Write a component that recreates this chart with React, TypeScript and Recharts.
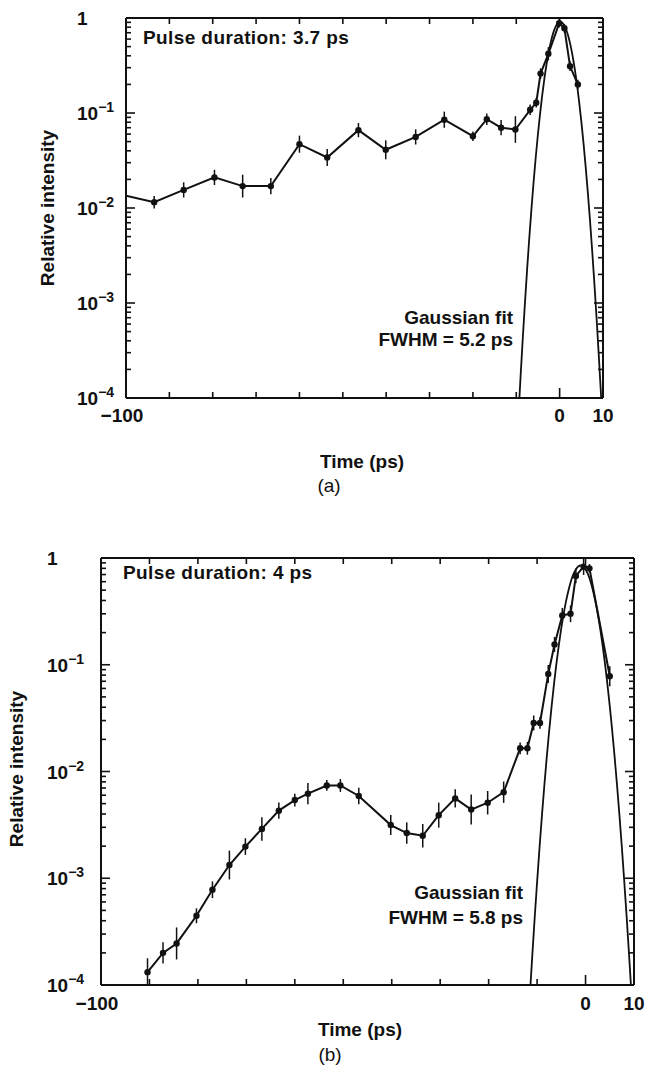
import React from 'react';
import { LineChart, Line, XAxis, YAxis, ErrorBar } from 'recharts';

// ---------- Panel (a) data ----------
const aTime = [-100, -93.5, -86.7, -79.6, -73.1, -66.6, -60.0, -53.6, -46.4, -40.1, -33.2, -26.6, -20.0, -16.8, -13.5, -10.2, -6.8, -5.4, -4.4, -2.6, -0.1, 1.1, 2.4, 4.2];
const aIntensity = [0.0135, 0.0115, 0.0155, 0.021, 0.017, 0.017, 0.047, 0.034, 0.066, 0.041, 0.056, 0.085, 0.057, 0.086, 0.07, 0.067, 0.108, 0.128, 0.26, 0.42, 0.88, 0.78, 0.31, 0.2];
const aErrDecades = [0, 0.065, 0.08, 0.08, 0.12, 0.085, 0.09, 0.09, 0.075, 0.1, 0.08, 0.085, 0.05, 0.06, 0.08, 0.14, 0.055, 0.05, 0.055, 0.07, 0.045, 0.045, 0.05, 0.05];

const aFitTime = [-9.5, -9, -8.5, -8, -7.5, -7, -6.5, -6, -5.5, -5, -4.5, -4, -3.5, -3, -2.5, -2, -1.5, -1, -0.5, 0, 0.5, 1, 1.5, 2, 2.5, 3, 3.5, 4, 4.5, 5, 5.5, 6, 6.5, 7, 7.5, 8, 8.5, 9, 9.5, 10];
const aFitIntensity = [6.5e-5, 1.71e-4, 4.25e-4, 1.0e-3, 2.26e-3, 4.83e-3, 9.8e-3, 0.0189, 0.0346, 0.0601, 0.0993, 0.156, 0.233, 0.33, 0.444, 0.568, 0.69, 0.796, 0.873, 0.91, 0.901, 0.847, 0.757, 0.643, 0.518, 0.396, 0.288, 0.2, 0.131, 0.0818, 0.0484, 0.0273, 0.0146, 7.43e-3, 3.58e-3, 1.64e-3, 7.16e-4, 2.96e-4, 1.17e-4, 4.4e-5];

// ---------- Panel (b) data ----------
const bTime = [-90.4, -87.2, -84.4, -80.3, -77.0, -73.5, -70.2, -66.8, -63.3, -60.0, -57.3, -53.4, -50.6, -46.8, -40.2, -36.9, -33.6, -30.3, -26.9, -23.6, -20.2, -16.9, -13.5, -12.0, -10.7, -9.4, -7.7, -6.4, -4.8, -3.1, -2.0, -0.4, 0.8, 5.0];
const bIntensity = [1.32e-4, 2.0e-4, 2.45e-4, 4.45e-4, 7.8e-4, 1.33e-3, 1.98e-3, 2.9e-3, 4.3e-3, 5.4e-3, 6.2e-3, 7.4e-3, 7.4e-3, 5.9e-3, 3.15e-3, 2.65e-3, 2.5e-3, 3.9e-3, 5.6e-3, 4.4e-3, 5.1e-3, 6.4e-3, 0.0165, 0.0165, 0.0285, 0.0285, 0.082, 0.155, 0.29, 0.30, 0.68, 0.83, 0.80, 0.078];
const bErrDecades = [0.13, 0.1, 0.15, 0.07, 0.078, 0.135, 0.078, 0.11, 0.075, 0.06, 0.1, 0.05, 0.06, 0.078, 0.094, 0.1, 0.11, 0.117, 0.085, 0.14, 0.11, 0.1, 0.055, 0.06, 0.07, 0.055, 0.085, 0.07, 0.07, 0.078, 0.07, 0.078, 0.04, 0.094];

const bFitTime = [-12, -11.5, -11, -10.5, -10, -9.5, -9, -8.5, -8, -7.5, -7, -6.5, -6, -5.5, -5, -4.5, -4, -3.5, -3, -2.5, -2, -1.5, -1, -0.5, 0, 0.5, 1, 1.5, 2, 2.5, 3, 3.5, 4, 4.5, 5, 5.5, 6, 6.5, 7, 7.5, 8, 8.5, 9, 9.5, 10];
const bFitIntensity = [3.2e-5, 7.9e-5, 1.86e-4, 4.24e-4, 9.2e-4, 1.93e-3, 3.87e-3, 7.43e-3, 0.0137, 0.0242, 0.0409, 0.0665, 0.1035, 0.1545, 0.221, 0.303, 0.399, 0.502, 0.608, 0.705, 0.782, 0.834, 0.851, 0.834, 0.782, 0.705, 0.608, 0.502, 0.399, 0.303, 0.221, 0.1545, 0.1035, 0.0665, 0.0409, 0.0242, 0.0137, 7.43e-3, 3.87e-3, 1.93e-3, 9.2e-4, 4.24e-4, 1.86e-4, 7.9e-5, 3.2e-5];

// ---------- Axes ----------
const xTicks = [-100, -90, -80, -70, -60, -50, -40, -30, -20, -10, 0, 10];
const xTickLabels: Record<string, string> = { '-100': '\u2212100', '0': '0', '10': '10' };
const yMajorTicks = [1e-4, 1e-3, 1e-2, 1e-1, 1];
const yMajorBase = ['10', '10', '10', '10', '1'];
const yMajorExp = ['\u22124', '\u22123', '\u22122', '\u22121', ''];
const yMinorMultipliers = [2, 3, 4, 5, 6, 7, 8, 9];
const yTicks = [
  ...yMajorTicks,
  ...yMajorTicks.slice(0, 4).flatMap((d) => yMinorMultipliers.map((m) => m * d)),
].sort((p, q) => p - q);

const FONT = '"Liberation Sans", Arial, Helvetica, sans-serif';
const INK = '#111';

function buildData(t: number[], v: number[], e?: number[]) {
  return t.map((x, i) => {
    const y = v[i];
    const d = e ? e[i] : 0;
    return {
      x,
      y,
      hasDot: e ? d > 0 : false,
      err: [y - y / Math.pow(10, d), y * Math.pow(10, d) - y],
    };
  });
}

const aData = buildData(aTime, aIntensity, aErrDecades);
const aFit = buildData(aFitTime, aFitIntensity);
const bData = buildData(bTime, bIntensity, bErrDecades);
const bFit = buildData(bFitTime, bFitIntensity);

function majorIndex(v: number) {
  return yMajorTicks.findIndex((m) => Math.abs(Math.log10(v) - Math.log10(m)) < 1e-6);
}

const makeLeftTick = (labelDx: number) => (props: any) => {
  const { x, y, payload } = props;
  const mi = majorIndex(payload.value);
  const len = mi >= 0 ? 9 : 5;
  return (
    <g>
      <line x1={x} x2={x + len} y1={y} y2={y} stroke={INK} strokeWidth={1.6} />
      {mi >= 0 && (
        <text x={x - labelDx} y={y + 7} fontFamily={FONT} fontWeight="bold" fontSize={19} fill={INK} textAnchor="start">
          <tspan>{yMajorBase[mi]}</tspan>
          {yMajorExp[mi] && (
            <tspan dy={-8} fontSize={14}>
              {yMajorExp[mi]}
            </tspan>
          )}
        </text>
      )}
    </g>
  );
};

const RightTick = (props: any) => {
  const { x, y, payload } = props;
  const mi = majorIndex(payload.value);
  const len = mi >= 0 ? 9 : 5;
  return <line x1={x} x2={x - len} y1={y} y2={y} stroke={INK} strokeWidth={1.6} />;
};

const makeBottomTick = (labelDy: number) => (props: any) => {
  const { x, y, payload } = props;
  const v = payload.value;
  const label = xTickLabels[String(v)];
  const len = v === 0 ? 10 : 6;
  return (
    <g>
      {v !== -100 && v !== 10 && <line x1={x} x2={x} y1={y} y2={y - len} stroke={INK} strokeWidth={1.6} />}
      {label && (
        <text x={v === -100 ? x - 4 : x} y={y + labelDy} fontFamily={FONT} fontWeight="bold" fontSize={19} fill={INK} textAnchor="middle">
          {label}
        </text>
      )}
    </g>
  );
};

const TopTick = (props: any) => {
  const { x, y, payload } = props;
  const v = payload.value;
  if (v === -100 || v === 10) return <g />;
  return <line x1={x} x2={x} y1={y} y2={y + 6} stroke={INK} strokeWidth={1.6} />;
};

const renderDot = (p: any) => {
  const key = `d-${p.index}`;
  if (!p.payload || !p.payload.hasDot) return <g key={key} />;
  return <circle key={key} cx={p.cx} cy={p.cy} r={3.2} fill={INK} stroke="none" />;
};

type PanelProps = {
  top: number;
  height: number;
  margin: { top: number; right: number; bottom: number; left: number };
  data: any[];
  fit: any[];
  labelDx: number;
  labelDy: number;
};

function Panel({ top, height, margin, data, fit, labelDx, labelDy }: PanelProps) {
  // axes are 1px thick, so the margins are reduced by 1 on each side
  const m = { top: margin.top - 1, right: margin.right - 1, bottom: margin.bottom - 1, left: margin.left - 1 };
  return (
    <div style={{ position: 'absolute', left: 0, top }}>
      <LineChart width={656} height={height} margin={m}>
        <XAxis
          xAxisId="b"
          type="number"
          dataKey="x"
          domain={[-100, 10]}
          ticks={xTicks}
          interval={0}
          allowDataOverflow
          height={1}
          tickSize={0}
          tickMargin={0}
          tickLine={false}
          axisLine={{ stroke: INK, strokeWidth: 2 }}
          tick={makeBottomTick(labelDy)}
        />
        <XAxis
          xAxisId="t"
          orientation="top"
          type="number"
          dataKey="x"
          domain={[-100, 10]}
          ticks={xTicks}
          interval={0}
          allowDataOverflow
          height={1}
          tickSize={0}
          tickMargin={0}
          tickLine={false}
          axisLine={{ stroke: INK, strokeWidth: 2 }}
          tick={TopTick}
        />
        <YAxis
          yAxisId="l"
          scale="log"
          type="number"
          domain={[1e-4, 1]}
          ticks={yTicks}
          interval={0}
          allowDataOverflow
          width={1}
          tickSize={0}
          tickMargin={0}
          tickLine={false}
          axisLine={{ stroke: INK, strokeWidth: 2 }}
          tick={makeLeftTick(labelDx)}
        />
        <YAxis
          yAxisId="r"
          orientation="right"
          scale="log"
          type="number"
          domain={[1e-4, 1]}
          ticks={yTicks}
          interval={0}
          allowDataOverflow
          width={1}
          tickSize={0}
          tickMargin={0}
          tickLine={false}
          axisLine={{ stroke: INK, strokeWidth: 2 }}
          tick={RightTick}
        />
        <Line
          xAxisId="b"
          yAxisId="l"
          data={fit}
          dataKey="y"
          type="monotone"
          stroke={INK}
          strokeWidth={1.8}
          dot={false}
          activeDot={false}
          isAnimationActive={false}
        />
        <Line
          xAxisId="b"
          yAxisId="l"
          data={data}
          dataKey="y"
          type="linear"
          stroke={INK}
          strokeWidth={2}
          dot={renderDot}
          activeDot={false}
          isAnimationActive={false}
        >
          <ErrorBar dataKey="err" direction="y" width={0} stroke={INK} strokeWidth={1.5} />
        </Line>
      </LineChart>
    </div>
  );
}

const boldText = { fontFamily: FONT, fontWeight: 'bold' as const, fontSize: 19, fill: INK };

export default function App() {
  return (
    <div style={{ position: 'absolute', left: 0, top: 0, width: 656, height: 1089, background: '#fff', overflow: 'hidden' }}>
      <Panel
        top={0}
        height={440}
        margin={{ top: 18, right: 53, bottom: 42, left: 126 }}
        data={aData}
        fit={aFit}
        labelDx={49}
        labelDy={24}
      />
      <Panel
        top={540}
        height={480}
        margin={{ top: 18, right: 22, bottom: 35, left: 101 }}
        data={bData}
        fit={bFit}
        labelDx={54}
        labelDy={25}
      />
      <svg width={656} height={1089} style={{ position: 'absolute', left: 0, top: 0, pointerEvents: 'none' }}>
        {/* Panel (a) annotations */}
        <text x={143} y={44} {...boldText} letterSpacing={0.4}>Pulse duration: 3.7 ps</text>
        <text x={513} y={324} {...boldText} textAnchor="end">Gaussian fit</text>
        <text x={513} y={346} {...boldText} textAnchor="end">FWHM = 5.2 ps</text>
        <text transform="translate(54,208) rotate(-90)" {...boldText} textAnchor="middle">Relative intensity</text>
        <text x={362} y={468} {...boldText} textAnchor="middle">Time (ps)</text>
        <text x={329} y={492} fontFamily={FONT} fontSize={19} fill={INK} textAnchor="middle">(a)</text>

        {/* Panel (b) annotations */}
        <text x={123} y={579} {...boldText} letterSpacing={0.4}>Pulse duration: 4 ps</text>
        <text x={523} y={899} {...boldText} textAnchor="end">Gaussian fit</text>
        <text x={523} y={924} {...boldText} textAnchor="end">FWHM = 5.8 ps</text>
        <text transform="translate(23,769) rotate(-90)" {...boldText} textAnchor="middle">Relative intensity</text>
        <text x={360} y={1036} {...boldText} textAnchor="middle">Time (ps)</text>
        <text x={330} y={1061} fontFamily={FONT} fontSize={19} fill={INK} textAnchor="middle">(b)</text>
      </svg>
    </div>
  );
}
